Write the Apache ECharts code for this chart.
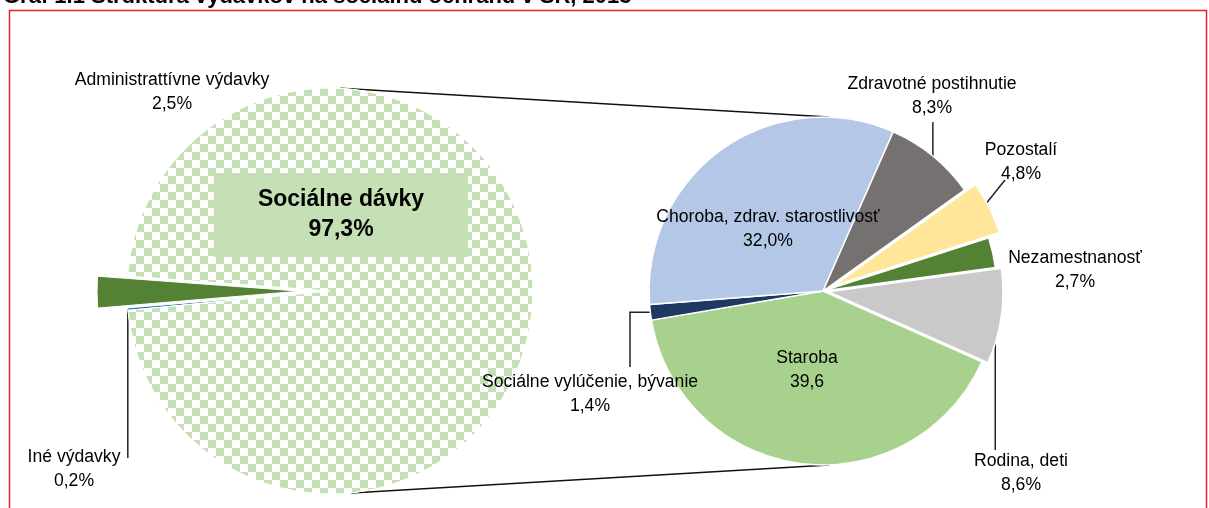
<!DOCTYPE html>
<html>
<head>
<meta charset="utf-8">
<script src="https://cdn.jsdelivr.net/npm/echarts@6/dist/echarts.min.js"></script>
<style>
  html, body { margin: 0; padding: 0; background: #fff; }
  #chart { width: 1209px; height: 508px; }
</style>
</head>
<body>
<div id="chart"></div>
<script>
// first pie: whole expenditure
const mainNames = ['Iné výdavky', 'Administrattívne výdavky', 'Sociálne dávky']
const mainValues = [0.2, 2.5, 97.3]
const mainLabels = ['0,2%', '2,5%', '97,3%']

// second pie: breakdown of social benefits
const benefitNames = ['Staroba', 'Sociálne vylúčenie, bývanie', 'Choroba, zdrav. starostlivosť',
  'Zdravotné postihnutie', 'Pozostalí', 'Nezamestnanosť', 'Rodina, deti']
const benefitValues = [39.6, 1.4, 32.0, 8.3, 4.8, 2.7, 8.6]
const benefitLabels = ['39,6', '1,4%', '32,0%', '8,3%', '4,8%', '2,7%', '8,6%']

const FONT = '"Liberation Sans", Arial, sans-serif'
const LEFT_C = [330, 291]
const LEFT_R = 203
const LEFT_START = 185.5
const RIGHT_C = [823, 291]
const RIGHT_R = 174
const RIGHT_START = -24

const mainColors = ['#2e75b6', '#548235', '#ffffff']
const benefitColors = ['#a9d18e', '#1f3864', '#b4c7e7', '#767171', '#ffe699', '#548235', '#c9c9c9']
const mainExplode = [0, 30, 0]
const benefitExplode = [0, 0, 0, 0, 12, 0, 6]

// label block centres and leader line routing (null = keep coordinate of the slice anchor)
const mainLabelPos = [[74, 469], [172, 92], [341, 215]]
const mainLeader = [[[null, 458]], null, null]
const benefitLabelPos = [[807, 370], [590, 394], [768, 229], [932, 96], [1021, 162], [1075, 270], [1021, 473]]
const benefitLeader = [null, [[630, null], [630, 367]], null, [[null, 122]], [[1005, 180]], null, [[null, 450]]]

function onCircle(c, r, deg) {
  const a = deg * Math.PI / 180
  return [c[0] + r * Math.cos(a), c[1] + r * Math.sin(a)]
}

// centre of a pie shifted outwards along the middle of slice idx
function shiftedCenter(center, values, start, idx, offset) {
  const sum = values.reduce((a, b) => a + b, 0)
  let before = 0
  for (let i = 0; i < idx; i++) before += values[i]
  const mid = (start - (before + values[idx] / 2) / sum * 360) * Math.PI / 180
  return [center[0] + offset * Math.cos(mid), center[1] - offset * Math.sin(mid)]
}

function makeLayout(pos, leaders) {
  return p => {
    const i = p.dataIndex
    const out = { x: pos[i][0], y: pos[i][1], align: 'center', verticalAlign: 'middle' }
    const lead = leaders[i]
    if (lead && p.labelLinePoints) {
      const p0 = p.labelLinePoints[0]
      out.labelLinePoints = [[p0[0], p0[1]]].concat(lead.map(q => [
        q[0] == null ? p0[0] : q[0],
        q[1] == null ? p0[1] : q[1]
      ]))
    }
    return out
  }
}

const labelBase = {
  show: true,
  position: 'outside',
  color: '#000',
  fontFamily: FONT,
  fontSize: 17.6,
  lineHeight: 24,
  align: 'center'
}
const lineBase = {
  show: true,
  length: 6,
  length2: 8,
  lineStyle: { color: '#222', width: 1.5 }
}
const HIDDEN = 'rgba(0,0,0,0)'

function pieSeries(opts) {
  const { names, values, colors, explode, labels, pos, leaders, center, radius, start, border, decalIdx } = opts
  const data = names.map((name, i) => {
    const item = {
      name,
      value: values[i],
      itemStyle: explode[i]
        ? { color: HIDDEN, borderColor: HIDDEN }
        : { color: colors[i] },
      labelLine: { show: !!leaders[i] }
    }
    if (i === decalIdx) {
      item.itemStyle.decal = {
        symbol: 'rect',
        symbolSize: 1,
        color: '#c5e0b4',
        dashArrayX: [[8, 8], [0, 8, 8, 0]],
        dashArrayY: [8, 0]
      }
      item.label = {
        fontSize: 23,
        fontWeight: 'bold',
        lineHeight: 30,
        backgroundColor: '#c5e0b4',
        padding: [12, 44]
      }
    }
    return item
  })

  const list = [{
    type: 'pie',
    center,
    radius: [0, radius],
    startAngle: start,
    clockwise: true,
    avoidLabelOverlap: false,
    itemStyle: { borderColor: '#fff', borderWidth: border },
    label: { ...labelBase, formatter: p => p.name + '\n' + labels[p.dataIndex] },
    labelLine: lineBase,
    labelLayout: makeLayout(pos, leaders),
    data
  }]

  // pulled-out slices drawn as their own shifted pie
  explode.forEach((off, k) => {
    if (!off) return
    list.push({
      type: 'pie',
      silent: true,
      center: shiftedCenter(center, values, start, k, off),
      radius: [0, radius],
      startAngle: start,
      clockwise: true,
      label: { show: false },
      labelLine: { show: false },
      emphasis: { disabled: true },
      data: values.map((v, i) => ({
        name: names[i],
        value: v,
        itemStyle: i === k
          ? { color: colors[i], borderColor: '#fff', borderWidth: border }
          : { color: HIDDEN, borderColor: HIDDEN, borderWidth: 0 }
      }))
    })
  })
  return list
}

function buildOption() {
  const t1 = onCircle(LEFT_C, LEFT_R, -87)
  const t2 = onCircle(RIGHT_C, RIGHT_R, -88)
  const b1 = onCircle(LEFT_C, LEFT_R, 84)
  const b2 = onCircle(RIGHT_C, RIGHT_R, 88)

  return {
    backgroundColor: '#fff',
    animation: false,
    graphic: [
      {
        type: 'rect',
        shape: { x: 9.5, y: 10.5, width: 1197, height: 520 },
        style: { fill: 'none', stroke: '#e02424', lineWidth: 1.5 }
      },
      {
        type: 'text',
        x: 3,
        y: 8,
        style: {
          text: 'Graf 1.1 Štruktúra výdavkov na sociálnu ochranu v SR, 2013',
          font: 'bold 22px ' + FONT,
          fill: '#000',
          verticalAlign: 'bottom'
        }
      },
      {
        type: 'line',
        shape: { x1: t1[0], y1: t1[1], x2: t2[0], y2: t2[1] },
        style: { stroke: '#111', lineWidth: 1.5 }
      },
      {
        type: 'line',
        shape: { x1: b1[0], y1: b1[1], x2: b2[0], y2: b2[1] },
        style: { stroke: '#111', lineWidth: 1.5 }
      }
    ],
    series: [
      ...pieSeries({
        names: mainNames, values: mainValues, colors: mainColors, explode: mainExplode,
        labels: mainLabels, pos: mainLabelPos, leaders: mainLeader,
        center: LEFT_C, radius: LEFT_R, start: LEFT_START, border: 1, decalIdx: 2
      }),
      ...pieSeries({
        names: benefitNames, values: benefitValues, colors: benefitColors, explode: benefitExplode,
        labels: benefitLabels, pos: benefitLabelPos, leaders: benefitLeader,
        center: RIGHT_C, radius: RIGHT_R, start: RIGHT_START, border: 1.5, decalIdx: -1
      })
    ]
  }
}

const chart = echarts.init(document.getElementById('chart'), null, { renderer: 'canvas' })
chart.setOption(buildOption())
</script>
</body>
</html>
